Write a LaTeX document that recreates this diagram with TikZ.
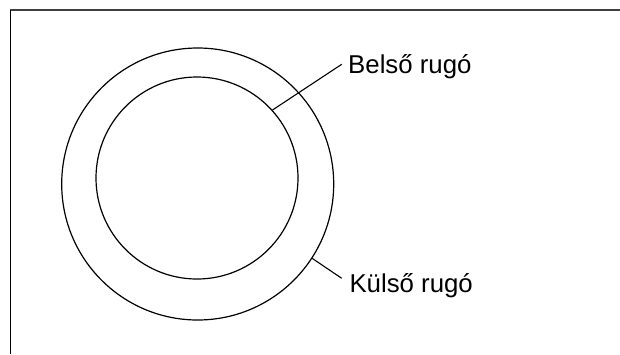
\documentclass[tikz,border=0pt]{standalone}
\usepackage{fontspec}
\setmainfont{Liberation Sans}
\begin{document}
\begin{tikzpicture}[x=1pt,y=-1pt,
  spring/.style={draw=black,line width=1.2pt},
  leader/.style={draw=black,line width=1.1pt},
  lbl/.style={anchor=base west,inner sep=0pt,font=\fontsize{25.8}{30}\selectfont}]
\useasboundingbox (0,0) rectangle (620,354);
% frame edges
\draw[draw=black!75,line width=2pt] (10,10) -- (620,10);
\draw[draw=black,line width=1.4pt] (10.5,10) -- (10.5,354);
% springs
\node[spring,circle,minimum size=272pt,inner sep=0pt] (outer) at (197.7,184) {};
\node[spring,circle,minimum size=202pt,inner sep=0pt] (inner) at (197,178) {};
% labels
\node[lbl] (tin) at (348,73.3) {Belső rugó};
\node[lbl] (tout) at (349.3,292.7) {Külső rugó};
\coordinate (pin) at (341.7,64.3);
\coordinate (pout) at (341.7,278.3);
\draw[leader] (inner.42) -- (pin);
\draw[leader] (outer.-33) -- (pout);
\end{tikzpicture}
\end{document}
